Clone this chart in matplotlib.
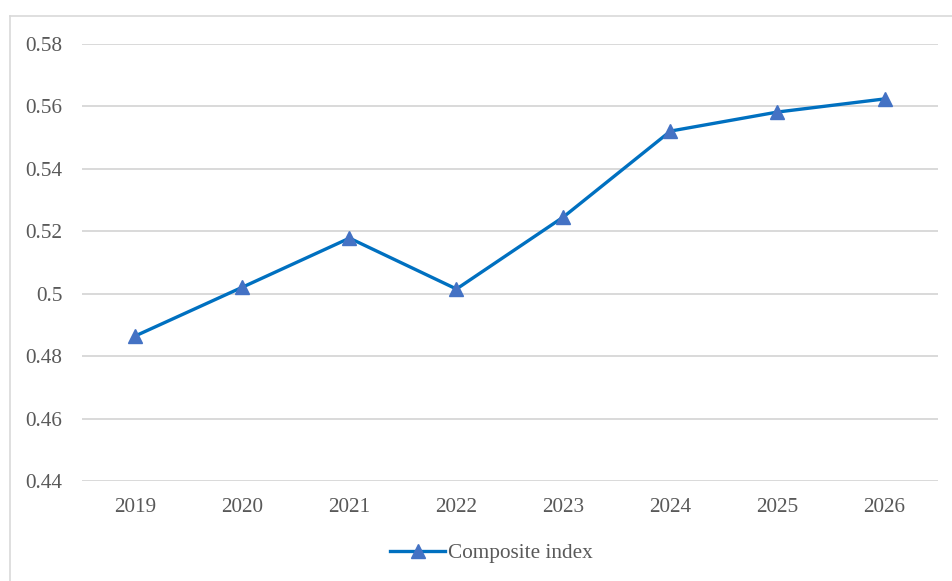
"""
Composite index, 2019-2026 (line chart)
"""

import matplotlib.pyplot as plt
from matplotlib import ticker
from matplotlib.lines import Line2D

plt.rcParams['font.family'] = ['Liberation Serif', 'DejaVu Serif']

years = ['2019', '2020', '2021', '2022', '2023', '2024', '2025', '2026']
composite = [0.4865, 0.5021, 0.5178, 0.5015, 0.5246, 0.5521, 0.5582, 0.5624]

fig = plt.figure(figsize=(9.52, 5.81), dpi=100)
ax = fig.add_axes([0.0861, 0.1721, 0.8992, 0.7522])

x = range(len(years))
ax.plot(x, composite, color='#0070C0', lw=2.4, marker='^', ms=10.5,
        mfc='#4472C4', mec='#4472C4', label='Composite index')

ax.set_xlim(-0.5, len(years) - 0.5)
ax.set_ylim(0.44, 0.58)
ax.set_xticks(list(x))
ax.set_xticklabels(years)
ax.yaxis.set_major_locator(ticker.MultipleLocator(0.02))
ax.yaxis.set_major_formatter(ticker.FuncFormatter(lambda v, p: '%g' % round(v, 2)))

# grid only, no spines/ticks
ax.grid(axis='y', color='#D9D9D9', lw=1.4)
ax.set_axisbelow(True)
for s in ax.spines.values():
    s.set_visible(False)
ax.tick_params(length=0, labelsize=15.3, labelcolor='#595959')
ax.tick_params(axis='y', pad=14)
ax.tick_params(axis='x', pad=12.5)

# chart-area border (left and top edge visible)
fig.add_artist(Line2D([9.5/952, 9.5/952], [0, 1 - 15.5/581], color='#D9D9D9', lw=1.2,
                      transform=fig.transFigure))
fig.add_artist(Line2D([9.5/952, 1], [1 - 15.5/581, 1 - 15.5/581], color='#D9D9D9', lw=1.2,
                      transform=fig.transFigure))

leg = fig.legend(loc='center', bbox_to_anchor=(0.516, 1 - 553/581), frameon=False,
                 fontsize=15.3, handlelength=2.6, handletextpad=0.1)
for t in leg.get_texts():
    t.set_color('#595959')

fig.savefig('out.png')
